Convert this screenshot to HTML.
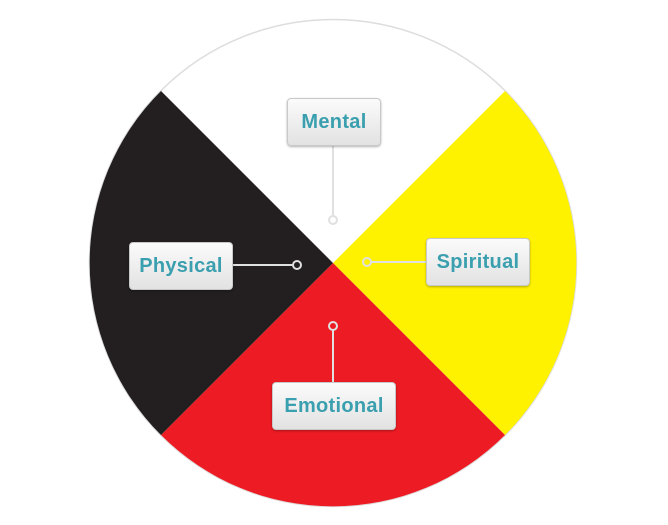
<!DOCTYPE html>
<html><head><style>
body{margin:0;width:668px;height:525px;background:#fff;overflow:hidden;position:relative;font-family:"Liberation Sans",sans-serif}
.b{position:absolute;box-sizing:border-box;border:1px solid #c8c8c8;border-radius:4px;background:linear-gradient(#fbfbfb,#e2e2e2);box-shadow:0 1px 2px rgba(0,0,0,.3);color:#3a9fae;font-weight:bold;font-size:20px;display:flex;align-items:center;justify-content:center;letter-spacing:.3px}
</style></head><body>
<svg width="668" height="525" style="position:absolute;left:0;top:0">
<circle cx="333" cy="263" r="243.5" fill="#fff" stroke="#ddd" stroke-width="1.5"/>
<path d="M333 263 L505 91 A243 243 0 0 1 505 435 Z" fill="#fff200"/>
<path d="M333 263 L505 435 A243 243 0 0 1 161 435 Z" fill="#ed1c24"/>
<path d="M333 263 L161 435 A243 243 0 0 1 161 91 Z" fill="#231f20"/>
<g stroke="#e0e0e0" stroke-width="2" fill="none">
<line x1="333" y1="146" x2="333" y2="216"/><circle cx="333" cy="220" r="4"/>
<line x1="233" y1="265" x2="293" y2="265"/><circle cx="297" cy="265" r="4"/>
<line x1="371" y1="262" x2="426" y2="262"/><circle cx="367" cy="262" r="4"/>
<line x1="333" y1="330" x2="333" y2="382"/><circle cx="333" cy="326" r="4"/>
</g>
</svg>
<div class="b" style="left:287px;top:98px;width:94px;height:48px">Mental</div>
<div class="b" style="left:129px;top:242px;width:104px;height:48px">Physical</div>
<div class="b" style="left:426px;top:238px;width:104px;height:48px">Spiritual</div>
<div class="b" style="left:272px;top:382px;width:124px;height:48px">Emotional</div>
</body></html>
